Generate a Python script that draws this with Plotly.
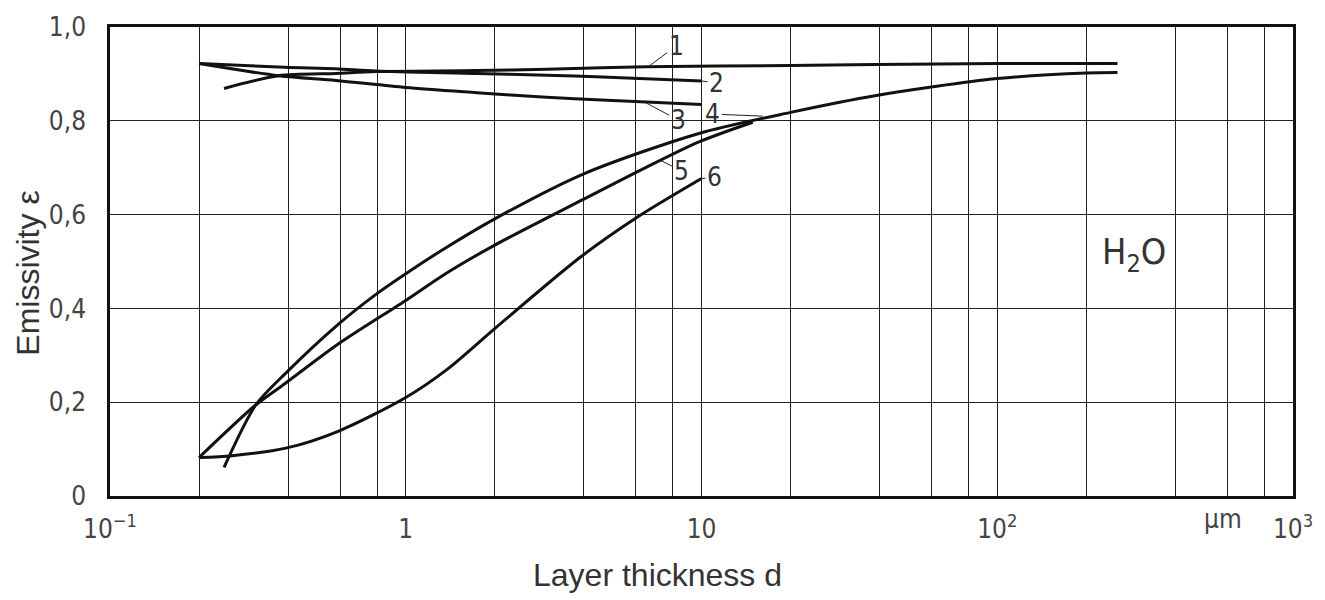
import math
import plotly.graph_objects as go

# ---- data ----
c1_x = [0.243, 0.372, 0.582, 0.793, 1.74, 3.0, 6.5, 20, 39, 100, 255]
c1_y = [0.869, 0.896, 0.901, 0.905, 0.907, 0.910, 0.915, 0.918, 0.920, 0.922, 0.922]
c2_x = [0.2, 0.39, 0.58, 0.79, 1.74, 3.0, 4.4, 10]
c2_y = [0.922, 0.914, 0.911, 0.906, 0.901, 0.897, 0.894, 0.885]
c3_x = [0.2, 0.372, 0.58, 1.0, 1.74, 3.0, 4.4, 10]
c3_y = [0.922, 0.896, 0.886, 0.871, 0.860, 0.850, 0.845, 0.835]
c4_x = [0.243, 0.311, 0.393, 0.591, 0.793, 1.0, 1.38, 2.0, 4.0, 9.8, 20, 39, 100, 200, 255]
c4_y = [0.061, 0.194, 0.262, 0.366, 0.430, 0.474, 0.531, 0.591, 0.687, 0.773, 0.818, 0.854, 0.890, 0.902, 0.903]
c5_x = [0.2, 0.311, 0.393, 0.591, 1.0, 1.38, 2.0, 4.0, 6.1, 9.8, 14.9]
c5_y = [0.082, 0.194, 0.241, 0.324, 0.417, 0.476, 0.535, 0.633, 0.692, 0.755, 0.797]
c6_x = [0.2, 0.259, 0.393, 0.591, 1.0, 1.38, 2.0, 3.87, 6.15, 10]
c6_y = [0.082, 0.086, 0.102, 0.138, 0.210, 0.270, 0.357, 0.508, 0.597, 0.677]

curves = [(c1_x, c1_y), (c2_x, c2_y), (c3_x, c3_y), (c4_x, c4_y), (c5_x, c5_y), (c6_x, c6_y)]

# curve label anchors (point on curve) and names
label_names = ["1", "2", "3", "4", "5", "6"]
label_x = [6.6, 10, 6.5, 16.1, 7.3, 10]
label_y = [0.915, 0.885, 0.838, 0.810, 0.715, 0.677]

x_major = [0.1, 1, 10, 100, 1000]
x_major_text = ["10<sup>−1</sup>", "1", "10", "10<sup>2</sup>", "10<sup>3</sup>"]
x_minor = [0.2, 0.4, 0.6, 0.8, 2, 4, 6, 8, 20, 40, 60, 80, 200, 400, 600, 800]
y_ticks = [0, 0.2, 0.4, 0.6, 0.8, 1.0]
y_tick_text = ["0", "0,2", "0,4", "0,6", "0,8", "1,0"]

TICKFONT = "DejaVu Sans Condensed, Liberation Sans Narrow, Arial Narrow, sans-serif"
TITLEFONT = "Liberation Sans, Arial, sans-serif"

L, T, W, H = 110, 16, 1190, 480

fig = go.Figure()
for cx, cy in curves:
    fig.add_trace(go.Scatter(x=cx, y=cy, mode="lines",
                             line=dict(color="#111", width=3, shape="spline", smoothing=0.8),
                             showlegend=False, hoverinfo="skip"))

# label offsets (pixels) for the leader lines
offsets = [(28, -21), (15, 2), (32, 17), (-50, -2), (20, 10), (13, -1)]
for name, lx, ly, (ax, ay) in zip(label_names, label_x, label_y, offsets):
    fig.add_annotation(x=math.log10(lx), y=ly, xref="x", yref="y", text=name,
                       showarrow=True, arrowhead=0, arrowwidth=1, arrowcolor="#222",
                       ax=ax, ay=ay, standoff=0,
                       font=dict(family=TICKFONT, size=26, color="#333"))

fig.add_annotation(x=math.log10(290), y=0.515, xref="x", yref="y",
                   text="H<sub>2</sub>O", showarrow=False,
                   xanchor="center", yanchor="middle",
                   font=dict(family=TICKFONT, size=36, color="#333"))

fig.add_annotation(x=math.log10(580), y=-(520 - (T + H)) / H, xref="x", yref="paper",
                   text="μm", showarrow=False, xanchor="center", yanchor="middle",
                   font=dict(family=TICKFONT, size=26, color="#444"))

fig.add_annotation(x=(661 - L) / W, y=-(577 - (T + H)) / H, xref="paper", yref="paper",
                   text="Layer thickness d", showarrow=False,
                   xanchor="center", yanchor="middle",
                   font=dict(family=TITLEFONT, size=32, color="#333"))
fig.add_annotation(x=(28 - L) / W, y=((T + H) - 268) / H, xref="paper", yref="paper",
                   text="Emissivity ε", showarrow=False, textangle=-90,
                   xanchor="center", yanchor="middle",
                   font=dict(family=TITLEFONT, size=32, color="#333"))

fig.update_xaxes(type="log", range=[-1, 3],
                 tickmode="array", tickvals=x_major, ticktext=x_major_text,
                 showgrid=True, gridcolor="#222", gridwidth=1.4,
                 minor=dict(tickmode="array", tickvals=x_minor, showgrid=True,
                            gridcolor="#222", gridwidth=1.4, ticks=""),
                 showline=True, linecolor="#111", linewidth=2.5, mirror=True,
                 ticks="", ticklabelstandoff=8, ticklabeloverflow="allow",
                 tickfont=dict(family=TICKFONT, size=26, color="#444"),
                 zeroline=False)
fig.update_yaxes(range=[0, 1], tickmode="array", tickvals=y_ticks, ticktext=y_tick_text,
                 showgrid=True, gridcolor="#222", gridwidth=1.4,
                 showline=True, linecolor="#111", linewidth=2.5, mirror=True,
                 ticks="", ticklabelstandoff=16, ticklabeloverflow="allow",
                 tickfont=dict(family=TICKFONT, size=26, color="#444"),
                 zeroline=False)

fig.update_layout(width=1325, height=600,
                  margin=dict(l=L, r=1325 - L - W, t=T, b=600 - T - H),
                  plot_bgcolor="white", paper_bgcolor="white")

fig.write_html("out.html")
